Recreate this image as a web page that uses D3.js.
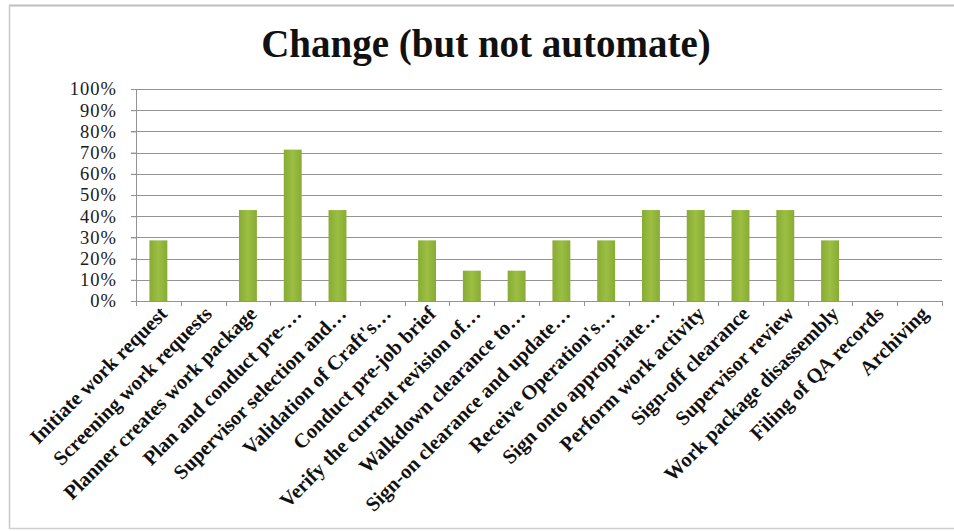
<!DOCTYPE html>
<html>
<head>
<meta charset="utf-8">
<script src="https://cdn.jsdelivr.net/npm/d3@7"></script>
<style>
  html, body { margin: 0; padding: 0; background: #fff; }
  svg { display: block; }
</style>
</head>
<body>
<svg id="chart" width="954" height="531"></svg>
<script>
const categories = [
  "Initiate work request",
  "Screening work requests",
  "Planner creates work package",
  "Plan and conduct pre-…",
  "Supervisor selection and…",
  "Validation of Craft's…",
  "Conduct pre-job brief",
  "Verify the current revision of…",
  "Walkdown clearance to…",
  "Sign-on clearance and update…",
  "Receive Operation's…",
  "Sign onto appropriate…",
  "Perform work activity",
  "Sign-off clearance",
  "Supervisor review",
  "Work package disassembly",
  "Filing of QA records",
  "Archiving"
];
const values = [0.286, 0, 0.429, 0.714, 0.429, 0, 0.286, 0.143, 0.143, 0.286, 0.286, 0.429, 0.429, 0.429, 0.429, 0.286, 0, 0];
const yTicks = [0, 0.1, 0.2, 0.3, 0.4, 0.5, 0.6, 0.7, 0.8, 0.9, 1.0];
const title = "Change (but not automate)";

const svg = d3.select("#chart");
const W = 954, H = 531;
const m = {left: 136, right: 12, top: 89, bottom: 230};
const iw = W - m.left - m.right, ih = H - m.top - m.bottom;

// outer frame
svg.append("line").attr("x1", 9).attr("x2", W).attr("y1", 5.5).attr("y2", 5.5).attr("stroke", "#bdbdbd").attr("stroke-width", 2);
svg.append("line").attr("x1", 9.5).attr("x2", 9.5).attr("y1", 5).attr("y2", 529).attr("stroke", "#c8c8c8").attr("stroke-width", 1.5);
svg.append("line").attr("x1", 9).attr("x2", W).attr("y1", 528.5).attr("y2", 528.5).attr("stroke", "#d0d0d0").attr("stroke-width", 1.5);

const x = d3.scaleBand().domain(categories).range([0, iw]).paddingInner(0.6).paddingOuter(0.3);
const xb = d3.scaleBand().domain(categories).range([0, iw]);
const y = d3.scaleLinear().domain([0, 1]).range([ih, 0]);

const g = svg.append("g").attr("transform", `translate(${m.left},${m.top})`);

// gridlines
g.append("g").selectAll("line").data(yTicks.filter(d => d > 0)).join("line")
  .attr("x1", -5).attr("x2", iw).attr("y1", d => Math.round(y(d)) + 0.5).attr("y2", d => Math.round(y(d)) + 0.5)
  .attr("stroke", "#939393").attr("stroke-width", 1);

// y axis
const yAxis = g.append("g").call(d3.axisLeft(y).tickValues(yTicks).tickFormat(d3.format(".0%")).tickSize(5).tickPadding(14));
yAxis.select(".domain").attr("stroke", "#939393");
yAxis.selectAll(".tick line").attr("stroke", "#939393");
yAxis.selectAll("text").attr("font-family", "'Liberation Serif', serif").attr("font-size", 18.5)
  .attr("letter-spacing", 1).attr("fill", "#1a1a1a");

// bars
const defs = svg.append("defs");
const grad = defs.append("linearGradient").attr("id", "barg").attr("x1", 0).attr("x2", 1).attr("y1", 0).attr("y2", 0);
grad.append("stop").attr("offset", "0%").attr("stop-color", "#88ab34");
grad.append("stop").attr("offset", "50%").attr("stop-color", "#9bbf43");
grad.append("stop").attr("offset", "100%").attr("stop-color", "#88ab34");

g.append("g").selectAll("rect").data(values).join("rect")
  .attr("x", (d, i) => x(categories[i]))
  .attr("width", x.bandwidth())
  .attr("y", d => y(d))
  .attr("height", d => ih - y(d))
  .attr("fill", "url(#barg)");

// x axis
const xAxis = g.append("g").attr("transform", `translate(0,${ih})`)
  .call(d3.axisBottom(xb).tickSize(0).tickFormat(""));
xAxis.select(".domain").attr("stroke", "#939393");
// boundary ticks
g.append("g").selectAll("line").data(d3.range(categories.length + 1)).join("line")
  .attr("x1", i => Math.round(i * xb.step()) + 0.5).attr("x2", i => Math.round(i * xb.step()) + 0.5)
  .attr("y1", ih).attr("y2", ih + 5).attr("stroke", "#939393");

// x labels
g.append("g").selectAll("text").data(categories).join("text")
  .attr("transform", d => `translate(${xb(d) + xb.bandwidth() / 2 + 10},${ih + 14}) rotate(-45)`)
  .attr("text-anchor", "end")
  .attr("font-family", "'Liberation Serif', serif")
  .attr("font-weight", "bold")
  .attr("font-size", 20.5)
  .attr("fill", "#111")
  .text(d => d);

// title
svg.append("text").attr("x", 486).attr("y", 57).attr("text-anchor", "middle")
  .attr("font-family", "'Liberation Serif', serif").attr("font-weight", "bold").attr("font-size", 39)
  .attr("fill", "#111").text(title);
</script>
</body>
</html>
